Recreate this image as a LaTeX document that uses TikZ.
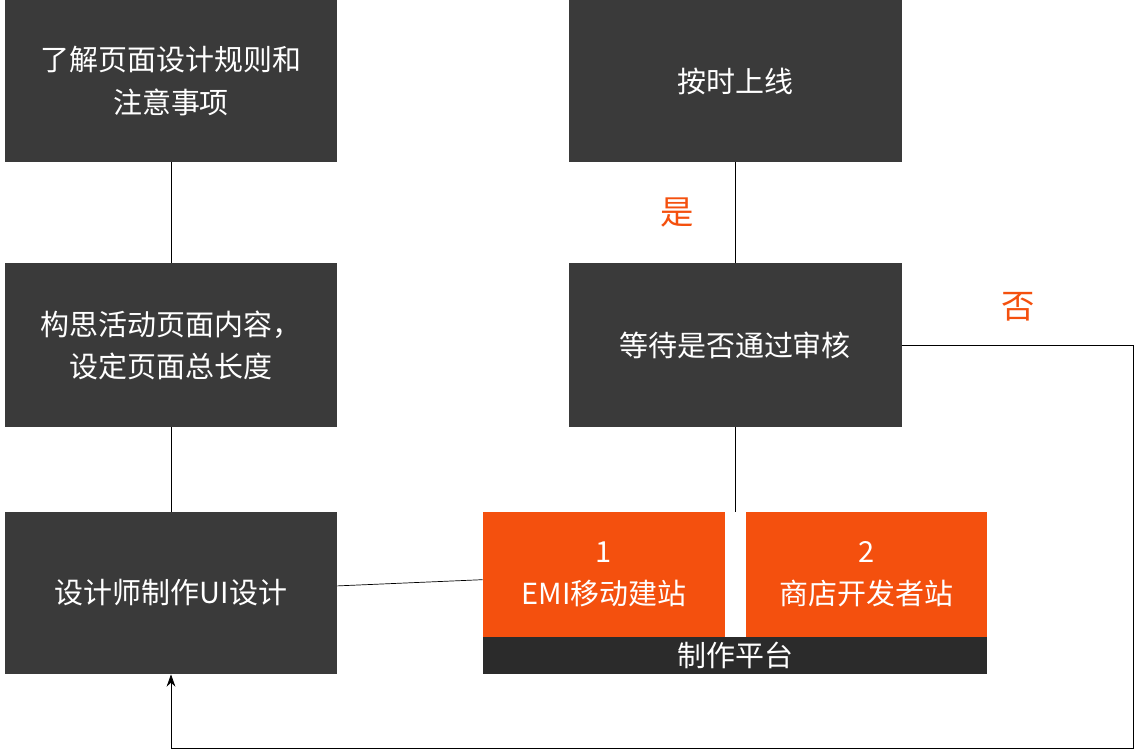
\documentclass[tikz,border=0pt]{standalone}
\usepackage{fontspec}
\setmainfont{Noto Sans CJK SC}
\usetikzlibrary{arrows.meta}
\definecolor{darkbox}{RGB}{58,58,58}
\definecolor{darkbar}{RGB}{43,43,43}
\definecolor{orangeb}{RGB}{244,80,14}
\tikzset{
  box/.style={fill=darkbox, text=white, inner sep=0pt, align=center, font=\fontsize{16.5}{24}\selectfont},
  obox/.style={box, fill=orangeb},
  lbl/.style={text=orangeb, font=\fontsize{19}{22}\selectfont}
}
\begin{document}
\begin{tikzpicture}[x=0.02cm,y=-0.02cm]
                \useasboundingbox (0,0) rectangle (1135,751);
                \node[box, minimum width=332*0.02cm, minimum height=162*0.02cm] (rules) at (171,81) {了解页面设计规则和\\注意事项};
                \node[box, minimum width=332*0.02cm, minimum height=164*0.02cm] (idea) at (171,345) {构思活动页面内容，\\ 设定页面总长度};
                \node[box, minimum width=332*0.02cm, minimum height=162*0.02cm] (design) at (171,593) {设计师制作UI设计};
                \node[box, minimum width=333*0.02cm, minimum height=162*0.02cm] (online) at (735,81) {按时上线};
                \node[box, minimum width=333*0.02cm, minimum height=164*0.02cm] (review) at (735,345) {等待是否通过审核};
                \node[obox, minimum width=242*0.02cm, minimum height=125*0.02cm] (emi) at (604,574.5) {1\\EMI移动建站};
                \node[obox, minimum width=241*0.02cm, minimum height=125*0.02cm] (store) at (866.5,574.5) {2\\商店开发者站};
                \node[box, fill=darkbar, minimum width=504*0.02cm, minimum height=37*0.02cm] (platform) at (735,655.5) {制作平台};
                \coordinate (top) at (735,512);
                \coordinate (corner1) at (1133,345);
                \coordinate (corner2) at (1133,748);
                \coordinate (corner3) at (171,748);
                \draw (rules) -- (idea);
                \draw (idea) -- (design);
                \draw (design) -- (emi);
                \draw (online) -- (review);
                \draw (review) -- (top);
                \draw[-{Stealth[length=7pt,width=5pt]}] (review.east) -- (corner1) -- (corner2) -- (corner3) -- (design.south);
                \node[lbl] (yes) at (677,213) {是};
                \node[lbl] (no) at (1018,307) {否};
            \end{tikzpicture}
\end{document}
